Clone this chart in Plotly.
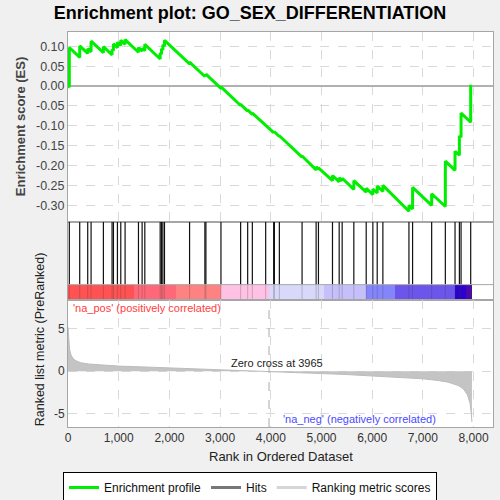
import plotly.graph_objects as go

# hit positions (rank) and running ES just before / after each hit
hit_ranks = [26, 231, 389, 455, 698, 869, 896, 975, 1041, 1126, 1390, 1462, 1515,
             1818, 1844, 1871, 1903, 2398, 2700, 2720, 3017, 3405, 3544, 3636, 3899,
             4057, 4071, 4169, 4617, 4894, 4940, 5217, 5349, 5408, 5638, 5882, 6013,
             6099, 6211, 6725, 6797, 7173, 7443, 7634, 7720, 7753, 7943]
es_before = [-0.003, 0.072, 0.082, 0.086, 0.084, 0.0785, 0.089, 0.0965, 0.102, 0.105,
             0.085, 0.088, 0.089, 0.068, 0.080, 0.091, 0.100, 0.056, 0.024, 0.026,
             -0.006, -0.049, -0.063, -0.071, -0.100, -0.117, -0.117, -0.127, -0.179,
             -0.211, -0.210, -0.238, -0.241, -0.238, -0.260, -0.267, -0.273, -0.269,
             -0.265, -0.315, -0.309, -0.300, -0.303, -0.212, -0.174, -0.129, -0.091]
es_after = [0.097, 0.101, 0.094, 0.113, 0.099, 0.092, 0.106, 0.110, 0.115, 0.117,
            0.097, 0.095, 0.105, 0.083, 0.094, 0.104, 0.115, 0.060, 0.028, 0.030,
            -0.002, -0.046, -0.060, -0.068, -0.098, -0.115, -0.115, -0.125, -0.176,
            -0.203, -0.206, -0.225, -0.231, -0.232, -0.238, -0.257, -0.259, -0.252,
            -0.250, -0.300, -0.255, -0.271, -0.189, -0.164, -0.125, -0.068, 0.003]

# ranked list metric, sampled along the curve
metric_ranks = [0, 10, 30, 60, 100, 150, 250, 400, 700, 1000, 1500, 2000, 2500, 3000,
                3500, 3965, 4500, 5000, 5500, 6000, 6500, 7000, 7300, 7500, 7700, 7800,
                7880, 7930, 7955, 7968]
metric_values = [5.2, 3.6, 2.6, 1.9, 1.5, 1.25, 1.0, 0.85, 0.7, 0.6, 0.5, 0.4, 0.3, 0.2,
                 0.1, 0.0, -0.15, -0.28, -0.4, -0.55, -0.7, -0.9, -1.1, -1.3, -1.7, -2.1,
                 -2.8, -3.8, -5.0, -6.0]

# colour band segments under the hits
band_edges = [0, 1309, 2132, 3020, 3962, 5053, 5876, 6455, 7640, 7857, 7968]
band_colors = ['#ff5252', '#ff6878', '#ff8282', '#ffc2e4', '#d8d8fb',
               '#c6c0fa', '#8585fb', '#6b55ea', '#2c00d0', '#4a0aa8']

es_ticks = [0.10, 0.05, 0.00, -0.05, -0.10, -0.15, -0.20, -0.25, -0.30]
metric_ticks = [5, 0, -5]
zero_cross = 3965
x_max = 8383

FONT = 'Liberation Sans'
GRID = '#d9d9d9'
FRAME = '#a6a6a6'

es_x, es_y = [0], [0.0]
for r, b, a in zip(hit_ranks, es_before, es_after):
    es_x += [r, r]
    es_y += [b, a]

hx, hy, bx, by = [], [], [], []
for r in hit_ranks:
    hx += [r, r, None]
    hy += [0.2, 1, None]
    bx += [r, r, None]
    by += [0, 0.2, None]

fig = go.Figure()

fig.add_trace(go.Scatter(x=es_x, y=es_y, mode='lines', xaxis='x', yaxis='y',
                         line=dict(color='#00ee00', width=3), showlegend=False))

for i, c in enumerate(band_colors):
    x0, x1 = band_edges[i], band_edges[i + 1]
    fig.add_trace(go.Bar(x=[(x0 + x1) / 2], y=[0.2], width=[x1 - x0], base=0,
                         marker=dict(color=c, line=dict(width=0)),
                         xaxis='x2', yaxis='y2', showlegend=False))
fig.add_trace(go.Scatter(x=bx, y=by, mode='lines', xaxis='x2', yaxis='y2',
                         line=dict(color='rgba(60,60,60,0.25)', width=1), showlegend=False))
fig.add_trace(go.Scatter(x=hx, y=hy, mode='lines', xaxis='x2', yaxis='y2',
                         line=dict(color='#111111', width=1.2), showlegend=False))
fig.add_trace(go.Scatter(x=[0, x_max], y=[0.2, 0.2], mode='lines', xaxis='x2', yaxis='y2',
                         line=dict(color=FRAME, width=1), showlegend=False))

fig.add_trace(go.Scatter(x=metric_ranks, y=metric_values, mode='lines', fill='tozeroy',
                         fillcolor='#c4c4c4', line=dict(color='#bcbcbc', width=1),
                         xaxis='x3', yaxis='y3', showlegend=False))
fig.add_trace(go.Scatter(x=[zero_cross, zero_cross], y=[-6.59, 8.37], mode='lines',
                         xaxis='x3', yaxis='y3', showlegend=False,
                         line=dict(color='#aaaaaa', width=1, dash='dash')))

# legend entries
fig.add_trace(go.Scatter(x=[None], y=[None], mode='lines', name='Enrichment profile',
                         line=dict(color='#00ee00', width=3)))
fig.add_trace(go.Scatter(x=[None], y=[None], mode='lines', name='Hits',
                         line=dict(color='#777777', width=3)))
fig.add_trace(go.Scatter(x=[None], y=[None], mode='lines', name='Ranking metric scores',
                         line=dict(color='#d6d6d6', width=3)))

axis_common = dict(range=[0, x_max], showline=True, mirror=True, linecolor=FRAME,
                   linewidth=1, zeroline=False, automargin=False)

fig.update_layout(
    width=500, height=500,
    margin=dict(l=68, r=7, t=32, b=73, autoexpand=False),
    paper_bgcolor='#f0f0f0', plot_bgcolor='white',
    font=dict(family=FONT, size=12, color='#333333'),
    title=dict(text='<b>Enrichment plot: GO_SEX_DIFFERENTIATION</b>', x=0.5, xanchor='center',
               y=0.975, yanchor='middle', font=dict(size=18, color='#000000')),
    barmode='overlay', bargap=0,
    xaxis=dict(axis_common, anchor='y', showticklabels=False, showgrid=True,
               griddash='dash', gridcolor=GRID, tick0=0, dtick=1000),
    yaxis=dict(domain=[0.519, 1], range=[-0.342, 0.136], showline=True, mirror=True,
               linecolor=FRAME, tickvals=es_ticks, automargin=False,
               ticktext=['%.2f' % v for v in es_ticks],
               showgrid=True, griddash='dash', gridcolor=GRID,
               zeroline=True, zerolinecolor='#b0b0b0', zerolinewidth=1.5,
               tickfont=dict(size=12.5, color='#444444')),
    xaxis2=dict(axis_common, anchor='y2', matches='x', showticklabels=False, showgrid=False),
    yaxis2=dict(domain=[0.3208, 0.519], range=[0, 1], showline=True, mirror=True,
                linecolor=FRAME, showticklabels=False, showgrid=False, zeroline=False,
                automargin=False),
    xaxis3=dict(axis_common, anchor='y3', matches='x', showgrid=True, griddash='dash',
                gridcolor=GRID, tick0=0, dtick=1000, tickformat=',d',
                tickfont=dict(size=12, color='#333333')),
    yaxis3=dict(domain=[0, 0.3208], range=[-6.59, 8.37], showline=True, mirror=True,
                linecolor=FRAME, tickvals=metric_ticks, automargin=False,
                ticktext=[str(v) for v in metric_ticks],
                showgrid=True, griddash='dash', gridcolor=GRID, zeroline=False,
                tickfont=dict(size=12, color='#333333')),
    legend=dict(orientation='h', xref='container', yref='container',
                x=0.5, xanchor='center', y=0.056, yanchor='top',
                bgcolor='white', bordercolor='#000000', borderwidth=1,
                font=dict(size=12, color='#111111'), itemwidth=30),
    showlegend=True,
)

fig.add_annotation(text='<b>Enrichment score (ES)</b>', xref='paper', yref='paper',
                   x=-0.112, y=0.76, textangle=-90, showarrow=False,
                   font=dict(size=13, color='#444444'), xanchor='center', yanchor='middle')
fig.add_annotation(text='Ranked list metric (PreRanked)', xref='paper', yref='paper',
                   x=-0.066, y=0.222, textangle=-90, showarrow=False,
                   font=dict(size=12.5, color='#222222'), xanchor='center', yanchor='middle')
fig.add_annotation(text='Rank in Ordered Dataset', xref='paper', yref='paper',
                   x=0.5, y=-0.075, showarrow=False, yanchor='middle',
                   font=dict(size=13, color='#222222'))
fig.add_annotation(text="'na_pos' (positively correlated)", xref='paper', yref='y3',
                   x=0.007, y=7.5, xanchor='left', yanchor='middle', showarrow=False,
                   font=dict(size=11, color='#ff4040'))
fig.add_annotation(text="'na_neg' (negatively correlated)", xref='paper', yref='y3',
                   x=0.5, y=-5.6, xanchor='left', yanchor='middle', showarrow=False,
                   font=dict(size=11, color='#4a4aff'))
fig.add_annotation(text='Zero cross at 3965', xref='x3', yref='y3',
                   x=3180, y=0.95, xanchor='left', yanchor='middle', showarrow=False,
                   font=dict(size=11, color='#222222'))

fig.write_html("out.html", config={'displayModeBar': False},
               post_script="document.body.style.margin = '0';")
